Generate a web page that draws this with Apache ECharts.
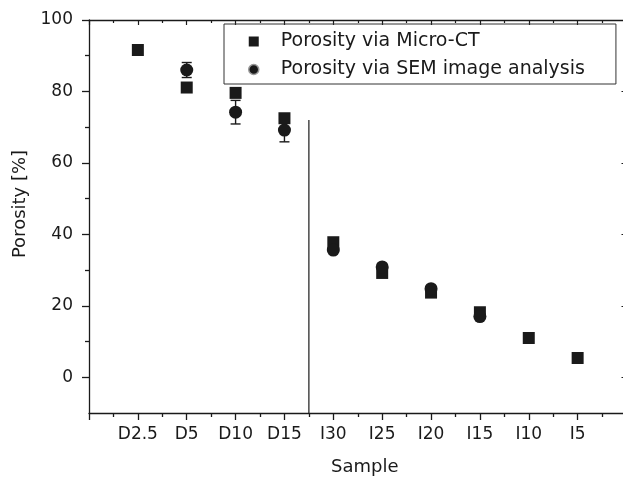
<!DOCTYPE html>
<html>
<head>
<meta charset="utf-8">
<script src="https://cdn.jsdelivr.net/npm/echarts@6/dist/echarts.min.js"></script>
<style>html,body{margin:0;padding:0;background:#fff}#c{width:623px;height:482px}</style>
</head>
<body>
<div id="c"></div>
<script>
// ---- data ----
const categories = ['D2.5','D5','D10','D15','I30','I25','I20','I15','I10','I5'];
const microCT   = [91.6, 81.1, 79.6, 72.5, 37.8, 29.2, 23.7, 18.2, 11.0, 5.4];
const semPorosity = [null, 86.0, 74.2, 69.2, 35.6, 30.9, 24.8, 17.0, null, null];
const semError    = [null, 2.1, 3.3, 3.3, null, null, null, null, null, null];
const yMajorTicks = [0, 20, 40, 60, 80, 100];
const yMinorTicks = [10, 30, 50, 70, 90];
const dividerX = 4.5;
const dividerRange = [-10, 72];
const nameCT = 'Porosity via Micro-CT';
const nameSEM = 'Porosity via SEM image analysis';

const ctData = categories.map((c, i) => [i + 1, microCT[i]]);
const semData = categories.map((c, i) => [i + 1, semPorosity[i]]).filter(d => d[1] != null);
const errData = categories.map((c, i) => [i + 1, semPorosity[i], semError[i]]).filter(d => d[2] != null);
const dividerData = dividerRange.map(v => [dividerX, v]);

const ink = '#1a1a1a';
const font = 'DejaVu Sans';
const chart = echarts.init(document.getElementById('c'), null, {renderer: 'canvas'});
chart.setOption({
  animation: false,
  textStyle: {fontFamily: font, color: ink},
  grid: {left: 89, top: 20, width: 537.5, height: 393, containLabel: false, outerBoundsMode: 'none'},
  legend: {
    orient: 'vertical', left: 224, top: 24,
    padding: [8, 31, 5, 24],
    itemGap: 9, itemWidth: 10, itemHeight: 10,
    borderColor: '#333', borderWidth: 1,
    textStyle: {fontFamily: font, fontSize: 19, color: ink, padding: [0, 0, 0, 17]},
    data: [
      {name: nameCT, icon: 'rect'},
      {name: nameSEM, icon: 'circle', itemStyle: {color: ink, borderColor: '#999', borderWidth: 1.5}}
    ]
  },
  xAxis: [
    {
      type: 'value', min: 0, max: 11, interval: 1, position: 'bottom',
      name: 'Sample', nameLocation: 'middle', nameGap: 45,
      nameTextStyle: {fontSize: 18, color: ink, padding: [0, 0, 0, 14]},
      axisLine: {onZero: false, lineStyle: {color: ink, width: 1.3}},
      axisTick: {show: true, inside: false, length: 7, lineStyle: {color: ink, width: 1.3}},
      minorTick: {show: true, splitNumber: 2, length: 4, lineStyle: {color: ink, width: 1.3}},
      axisLabel: {fontSize: 17, color: ink, margin: 13, formatter: v => categories[v - 1] || ''},
      splitLine: {show: false}, minorSplitLine: {show: false}
    },
    {
      type: 'value', min: 0, max: 11, interval: 1, position: 'top',
      axisLine: {onZero: false, lineStyle: {color: ink, width: 1.3}},
      axisTick: {show: true, inside: true, length: 5, lineStyle: {color: ink, width: 1.2}},
      minorTick: {show: true, splitNumber: 2, length: 3, lineStyle: {color: ink, width: 1.2}},
      axisLabel: {show: false}, splitLine: {show: false}
    }
  ],
  yAxis: [
    {
      type: 'value', min: -10, max: 100, interval: 10, position: 'left',
      name: 'Porosity [%]', nameLocation: 'middle', nameGap: 60,
      nameTextStyle: {fontSize: 18, color: ink, padding: [0, 0, 0, 25]},
      axisLine: {show: true, onZero: false, lineStyle: {color: ink, width: 1.3}},
      axisTick: {show: true, length: 7, customValues: yMajorTicks, lineStyle: {color: ink, width: 1.3}},
      axisLabel: {fontSize: 17, color: ink, margin: 16, customValues: yMajorTicks},
      splitLine: {show: false}
    },
    {
      type: 'value', min: -10, max: 100, interval: 10, position: 'left',
      axisLine: {show: false, onZero: false},
      axisTick: {show: true, length: 4, customValues: yMinorTicks, lineStyle: {color: ink, width: 1.3}},
      axisLabel: {show: false}, splitLine: {show: false}
    },
    {
      type: 'value', min: -10, max: 100, interval: 10, position: 'right',
      axisLine: {show: true, onZero: false, lineStyle: {color: ink, width: 1.3}},
      axisTick: {show: true, inside: true, length: 5, customValues: yMajorTicks, lineStyle: {color: ink, width: 1.2}},
      axisLabel: {show: false}, splitLine: {show: false}
    },
    {
      type: 'value', min: -10, max: 100, interval: 10, position: 'right',
      axisLine: {show: false, onZero: false},
      axisTick: {show: true, inside: true, length: 3, customValues: yMinorTicks, lineStyle: {color: ink, width: 1.2}},
      axisLabel: {show: false}, splitLine: {show: false}
    }
  ],
  series: [
    {
      type: 'line', data: dividerData, symbol: 'none', silent: true,
      lineStyle: {color: ink, width: 1.2}, z: 1
    },
    {
      type: 'custom', data: errData, silent: true, z: 2,
      renderItem: (params, api) => {
        const x = api.value(0), y = api.value(1), e = api.value(2);
        const top = api.coord([x, y + e]);
        const bot = api.coord([x, y - e]);
        const w = 5;
        const st = {stroke: ink, lineWidth: 1.4};
        return {type: 'group', children: [
          {type: 'line', shape: {x1: top[0], y1: top[1], x2: bot[0], y2: bot[1]}, style: st},
          {type: 'line', shape: {x1: top[0] - w, y1: top[1], x2: top[0] + w, y2: top[1]}, style: st},
          {type: 'line', shape: {x1: bot[0] - w, y1: bot[1], x2: bot[0] + w, y2: bot[1]}, style: st}
        ]};
      }
    },
    {
      name: nameCT, type: 'scatter', data: ctData, symbol: 'rect', symbolSize: 12,
      itemStyle: {color: ink, opacity: 1}, z: 3
    },
    {
      name: nameSEM, type: 'scatter', data: semData, symbol: 'circle', symbolSize: 13,
      itemStyle: {color: ink, opacity: 1}, z: 4
    }
  ]
});
</script>
</body>
</html>
